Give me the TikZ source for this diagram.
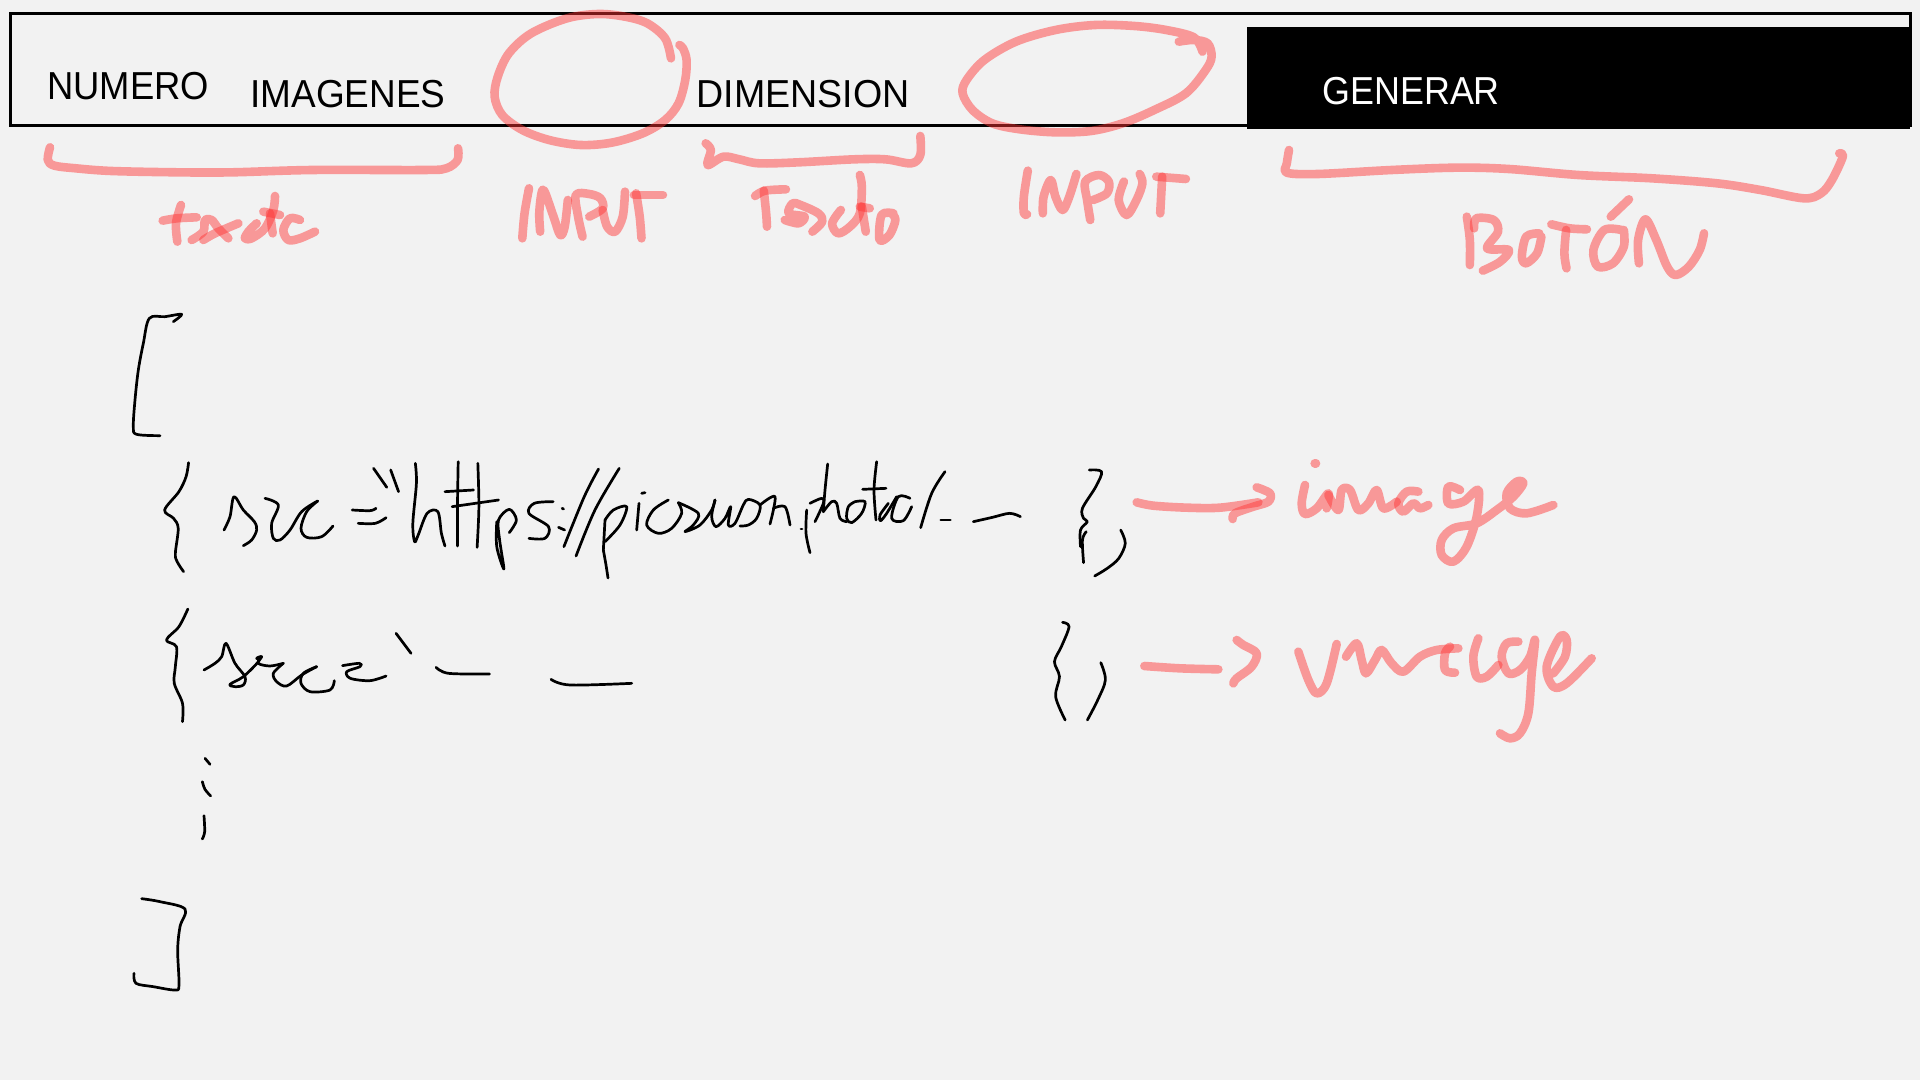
\documentclass[tikz,border=0pt]{standalone}
\usepackage{fontspec}
\setmainfont[FakeStretch=0.92]{Liberation Sans}
\definecolor{paper}{HTML}{F2F2F2}
\definecolor{marker}{rgb}{1,0.21,0.21}
\tikzset{
  inkred/.style={line width=4.3pt,line cap=round,line join=round,draw=marker,draw opacity=0.48,smooth,tension=0.55},
  inkblack/.style={line width=1.35pt,line cap=round,line join=round,draw=black,smooth,tension=0.55},
  label/.style={anchor=base west,inner sep=0pt,font=\fontsize{19.5}{20}\selectfont}
}
\begin{document}
\begin{tikzpicture}[x=0.5pt,y=0.5pt,yscale=-1]
\useasboundingbox (0,0) rectangle (1920,1080);
\fill[paper] (0,0) rectangle (1920,1080);

%Menu bar
\draw[line width=1.5pt] (10,14) rectangle (1910,126);
\fill[black] (1247,27) rectangle (1910,129);
\node[label,xscale=1.015] (numero) at (47,100) {NUMERO};
\node[label,xscale=1.03] (imagenes) at (250,108) {IMAGENES};
\node[label,xscale=1.048] (dimension) at (696,108) {DIMENSION};
\node[label,text=white] (generar) at (1322,105) {GENERAR};

%Left marks
\begin{scope}[xscale=1/2.24,yscale=1/3]
\draw[inkred] plot coordinates {(1503,175) (1490,115) (1450,70) (1400,50) (1340,42) (1270,55) (1190,100) (1140,160) (1115,230) (1108,290) (1125,345) (1170,390) (1230,420) (1300,435) (1370,428) (1440,400) (1490,360) (1520,310) (1535,240) (1538,180) (1530,145) (1522,135)};
\draw[inkred] plot coordinates {(112,442) (107,480) (122,497) (170,505) (250,513) (400,517) (520,517) (700,510) (950,510) (1000,505) (1025,480) (1026,445)};
\draw[inkred] plot coordinates {(1185,565) (1175,640) (1170,715)};
\draw[inkred] plot coordinates {(1210,695) (1208,640) (1213,580) (1220,575) (1240,650) (1255,705) (1265,680) (1272,600)};
\draw[inkred] plot coordinates {(1305,710) (1295,650) (1290,585) (1320,582) (1345,595) (1350,625) (1320,650)};
\draw[inkred] plot coordinates {(1350,630) (1360,680) (1378,695) (1395,650) (1400,575)};
\draw[inkred] plot coordinates {(1437,715) (1433,650) (1425,580)};
\draw[inkred] plot coordinates {(1420,585) (1485,585)};
\end{scope}
\begin{scope}[shift={(150,190)},scale=1/3]
\draw[inkred] plot coordinates {(93,45) (78,100) (82,155)};
\draw[inkred] plot coordinates {(38,92) (80,85) (140,82)};
\draw[inkred] plot coordinates {(125,150) (160,125) (165,90) (185,90) (205,115) (235,145)};
\draw[inkred] plot coordinates {(160,150) (195,130) (265,100)};
\draw[inkred] plot coordinates {(320,100) (295,125) (285,145) (305,145) (345,115) (370,60) (375,18)};
\draw[inkred] plot coordinates {(360,70) (368,130)};
\draw[inkred] plot coordinates {(340,65) (390,75)};
\draw[inkred] plot coordinates {(450,90) (420,85) (400,120) (415,150) (450,145) (495,125)};
\end{scope}

%Middle marks
\begin{scope}[shift={(680,0)},xscale=1/2.53,yscale=1/3]
\draw[inkred] plot coordinates {(1262,125) (1300,120) (1335,130) (1345,170) (1330,210) (1280,280) (1200,330) (1120,370) (1040,393) (950,397) (860,388) (790,370) (740,330) (715,280) (725,240) (770,180) (850,125) (950,90) (1050,75) (1150,78) (1230,90) (1300,112) (1322,155)};
\draw[inkred] plot coordinates {(65,430) (78,450) (70,495) (110,470) (150,478) (200,490) (300,487) (440,478) (520,478) (585,490) (608,465) (608,408)};
\draw[inkred] plot coordinates {(190,588) (215,572) (268,568)};
\draw[inkred] plot coordinates {(212,572) (218,640) (220,680)};
\draw[inkred] plot coordinates {(265,660) (300,670) (315,650) (275,640) (285,610) (305,615) (350,640) (360,665) (335,695)};
\draw[inkred] plot coordinates {(407,630) (385,670) (400,700) (430,680) (455,640) (460,560) (455,525)};
\draw[inkred] plot coordinates {(455,620) (480,625)};
\draw[inkred] plot coordinates {(460,620) (470,695)};
\draw[inkred] plot coordinates {(540,640) (510,645) (505,720) (530,705) (545,660) (535,640)};
\draw[inkred] plot coordinates {(880,512) (870,590) (870,640) (878,643)};
\draw[inkred] plot coordinates {(918,640) (920,590) (938,540) (950,590) (968,630) (985,590) (1003,522)};
\draw[inkred] plot coordinates {(1038,660) (1030,600) (1025,545) (1060,525) (1085,545) (1080,580) (1045,600)};
\draw[inkred] plot coordinates {(1123,545) (1110,600) (1130,645) (1155,600) (1170,550) (1163,522)};
\draw[inkred] plot coordinates {(1205,530) (1280,537)};
\draw[inkred] plot coordinates {(1220,530) (1215,640)};
\end{scope}

%Right marks
\begin{scope}[shift={(1240,0)},xscale=1/2.306,yscale=1/3]
\draw[inkred] plot coordinates {(113,450) (108,490) (108,518) (180,522) (350,510) (500,503) (620,507) (780,525) (950,535) (1100,550) (1200,570) (1300,595) (1340,580) (1365,540) (1390,470) (1382,460)};
\draw[inkred] plot coordinates {(523,650) (530,720) (530,795)};
\draw[inkred] plot coordinates {(540,685) (545,655) (585,660) (595,695) (570,745) (620,750) (600,785) (560,812)};
\draw[inkred] plot coordinates {(690,700) (660,710) (650,770) (660,790) (685,760) (695,710)};
\draw[inkred] plot coordinates {(718,673) (760,685) (800,688)};
\draw[inkred] plot coordinates {(752,690) (748,760) (753,805)};
\draw[inkred] plot coordinates {(880,690) (840,690) (815,750) (825,800) (860,790) (885,740) (885,690)};
\draw[inkred] plot coordinates {(855,650) (897,598)};
\draw[inkred] plot coordinates {(920,790) (918,720) (935,658) (960,720) (985,800) (1005,825) (1035,800) (1060,750) (1070,700)};
\end{scope}

%Array, left part
\begin{scope}[shift={(110,300)},scale=1/3]
\draw[inkblack] plot coordinates {(190,65) (215,43) (165,50) (118,55) (100,130) (85,210) (75,300) (70,380) (80,403) (150,407)};
\end{scope}
\begin{scope}[shift={(215,450)},scale=1/3]
\draw[inkblack] plot coordinates {(27,240) (45,200) (57,140) (85,180) (118,215) (125,240) (110,270) (85,287)};
\draw[inkblack] plot coordinates {(150,145) (190,165) (170,220) (175,265) (195,270) (225,240) (260,185) (308,153)};
\draw[inkblack] plot coordinates {(308,153) (275,185) (258,235) (275,262) (320,260) (354,228)};
\draw[inkblack] plot coordinates {(-33,660) (0,640) (20,620) (33,580) (60,640) (90,680) (85,705) (60,710) (45,703) (85,680) (130,635) (125,625) (140,620) (130,640) (165,648) (205,640)};
\draw[inkblack] plot coordinates {(205,640) (175,670) (185,695) (215,708) (260,675) (305,650)};
\draw[inkblack] plot coordinates {(305,650) (265,670) (258,700) (285,725) (345,720) (358,692)};
\end{scope}
\begin{scope}[shift={(120,440)},xscale=1/2.8,yscale=1/3]
\draw[inkblack] plot coordinates {(192,68) (185,110) (165,155) (125,210) (150,235) (163,265) (155,340) (160,365) (178,395)};
\draw[inkblack] plot coordinates {(650,210) (700,212) (717,205)};
\draw[inkblack] plot coordinates {(667,250) (715,250) (745,233)};
\draw[inkblack] plot coordinates {(710,85) (747,142)};
\draw[inkblack] plot coordinates {(758,90) (780,155)};
\draw[inkblack] plot coordinates {(827,70) (830,130) (820,250) (825,305) (835,285) (860,220) (890,215) (900,280) (910,318)};
\draw[inkblack] plot coordinates {(947,65) (945,200) (945,318)};
\draw[inkblack] plot coordinates {(1002,70) (1005,200) (1000,322)};
\draw[inkblack] plot coordinates {(910,155) (990,150)};
\draw[inkblack] plot coordinates {(930,200) (1060,180)};
\draw[inkblack] plot coordinates {(1055,245) (1055,320) (1075,387) (1063,300) (1060,240) (1090,208) (1110,240) (1090,278)};
\draw[inkblack] plot coordinates {(1213,185) (1160,190) (1145,220) (1200,260) (1190,295) (1145,295)};
\draw[inkblack] plot coordinates {(1238,205) (1242,207)};
\draw[inkblack] plot coordinates {(1228,262) (1245,270)};
\draw[inkblack] plot coordinates {(1340,87) (1300,170) (1243,320)};
\draw[inkblack] plot coordinates {(1398,85) (1330,210) (1277,348)};
\draw[inkblack] plot coordinates {(190,507) (165,560) (130,600) (158,620) (155,680) (152,730) (175,790) (175,845)};
\draw[inkblack] plot coordinates {(623,677) (670,670) (672,680) (635,695) (645,715) (700,722) (745,708)};
\draw[inkblack] plot coordinates {(773,580) (815,640)};
\draw[inkblack] plot coordinates {(885,682) (920,700) (1035,702)};
\draw[inkblack] plot coordinates {(1207,718) (1260,735) (1433,730)};
\end{scope}

%Address, second half
\begin{scope}[shift={(600,450)},scale=1/3]
\draw[inkblack] plot coordinates {(15,210) (10,300)};
\draw[inkblack] plot coordinates {(15,210) (40,180) (80,170) (60,225) (15,275)};
\draw[inkblack] plot coordinates {(10,300) (18,345) (24,384)};
\draw[inkblack] plot coordinates {(117,160) (110,240)};
\draw[inkblack] plot coordinates {(125,130) (135,128)};
\draw[inkblack] plot coordinates {(205,150) (160,180) (140,225) (175,250) (215,235) (245,190) (235,158)};
\draw[inkblack] plot coordinates {(235,158) (295,190) (280,225) (255,245) (300,225) (335,180) (345,150)};
\draw[inkblack] plot coordinates {(345,150) (335,200) (348,230) (375,205) (392,170) (385,225) (405,220) (430,165) (445,148) (480,165) (470,205) (445,225) (420,228)};
\draw[inkblack] plot coordinates {(480,165) (525,140) (510,222)};
\draw[inkblack] plot coordinates {(520,175) (555,170) (570,225)};
\end{scope}
\begin{scope}[shift={(790,450)},scale=1/3]
\draw[inkblack] plot coordinates {(33,237) (36,237)};
\draw[inkblack] plot coordinates {(50,180) (48,250) (60,308)};
\draw[inkblack] plot coordinates {(60,160) (95,145) (100,160) (75,215)};
\draw[inkblack] plot coordinates {(113,42) (105,120) (100,185)};
\draw[inkblack] plot coordinates {(100,185) (125,155) (140,160) (150,205) (170,215)};
\draw[inkblack] plot coordinates {(195,155) (175,170) (170,205) (185,218) (215,190) (225,155) (195,155)};
\draw[inkblack] plot coordinates {(218,118) (288,115)};
\draw[inkblack] plot coordinates {(260,35) (252,120) (258,210)};
\draw[inkblack] plot coordinates {(295,160) (270,195) (272,212) (290,190) (320,140)};
\draw[inkblack] plot coordinates {(360,145) (325,140) (305,205) (340,212) (365,170)};
\draw[inkblack] plot coordinates {(465,65) (425,130) (392,233)};
\end{scope}

%Array, right part
\begin{scope}[shift={(560,440)},xscale=1/2.613,yscale=1/3]
\draw[inkblack] plot coordinates {(995,240) (1020,240)};
\draw[inkblack] plot coordinates {(1080,245) (1130,232) (1175,220) (1203,230)};
\draw[inkblack] plot coordinates {(1383,90) (1415,95) (1400,140) (1365,205) (1368,235) (1378,245) (1360,270) (1360,320)};
\draw[inkblack] plot coordinates {(1375,275) (1365,300) (1368,368)};
\draw[inkblack] plot coordinates {(1465,270) (1477,310) (1460,355) (1430,385) (1397,408)};
\draw[inkblack] plot coordinates {(1313,547) (1330,560) (1310,620) (1292,665) (1305,710) (1295,770) (1320,840)};
\draw[inkblack] plot coordinates {(1413,668) (1425,720) (1405,780) (1378,840)};
\end{scope}

%Dots and closing bracket
\begin{scope}[shift={(110,720)},scale=1/3]
\draw[inkblack] plot coordinates {(285,115) (300,133)};
\draw[inkblack] plot coordinates {(277,185) (285,208) (302,228)};
\draw[inkblack] plot coordinates {(282,287) (284,335) (277,357)};
\draw[inkblack] plot coordinates {(95,536) (150,545) (225,567) (210,620) (203,690) (207,795) (195,810) (130,800) (78,790) (72,760)};
\end{scope}

%Arrows and words
\begin{scope}[shift={(1120,440)},scale=1/3]
\draw[inkred] plot coordinates {(50,187) (100,197) (200,203) (300,203) (415,187)};
\draw[inkred] plot coordinates {(410,142) (450,160) (445,185) (400,200) (345,220) (338,237)};
\draw[inkred] plot coordinates {(584,70) (588,70)};
\draw[inkred] plot coordinates {(555,135) (545,190) (555,222) (590,205) (625,160) (620,205)};
\draw[inkred] plot coordinates {(625,165) (655,210) (665,150) (690,150) (715,210) (745,190) (770,150) (790,205) (830,185)};
\draw[inkred] plot coordinates {(895,155) (860,155) (835,190) (850,215) (880,190) (900,205) (925,195)};
\draw[inkred] plot coordinates {(1020,150) (985,140) (985,190) (1030,185) (1075,150) (1070,230) (1040,320) (1000,365) (965,345) (965,300) (1000,265) (1070,250) (1130,210) (1180,170) (1210,130) (1190,125) (1160,160) (1170,205) (1220,220) (1300,195)};
\draw[inkred] plot coordinates {(73,678) (180,685) (295,688)};
\draw[inkred] plot coordinates {(350,600) (370,615) (410,640) (395,680) (350,715) (340,730)};
\draw[inkred] plot coordinates {(535,635) (565,720) (590,760) (620,730) (650,612)};
\draw[inkred] plot coordinates {(678,650) (710,610) (725,660) (738,700) (765,660) (785,630) (815,670) (850,695) (900,650) (950,630) (1015,625)};
\draw[inkred] plot coordinates {(990,620) (975,640) (975,690) (1005,698)};
\draw[inkred] plot coordinates {(1075,595) (1060,650) (1070,710) (1100,710) (1135,675)};
\draw[inkred] plot coordinates {(1195,605) (1160,610) (1145,650) (1165,700) (1200,690) (1230,650) (1245,600) (1235,700) (1225,820) (1200,880) (1170,895) (1140,880)};
\draw[inkred] plot coordinates {(1415,655) (1340,730) (1300,740) (1280,680) (1320,590) (1340,600) (1335,650) (1300,700)};
\end{scope}
\end{tikzpicture}
\end{document}
